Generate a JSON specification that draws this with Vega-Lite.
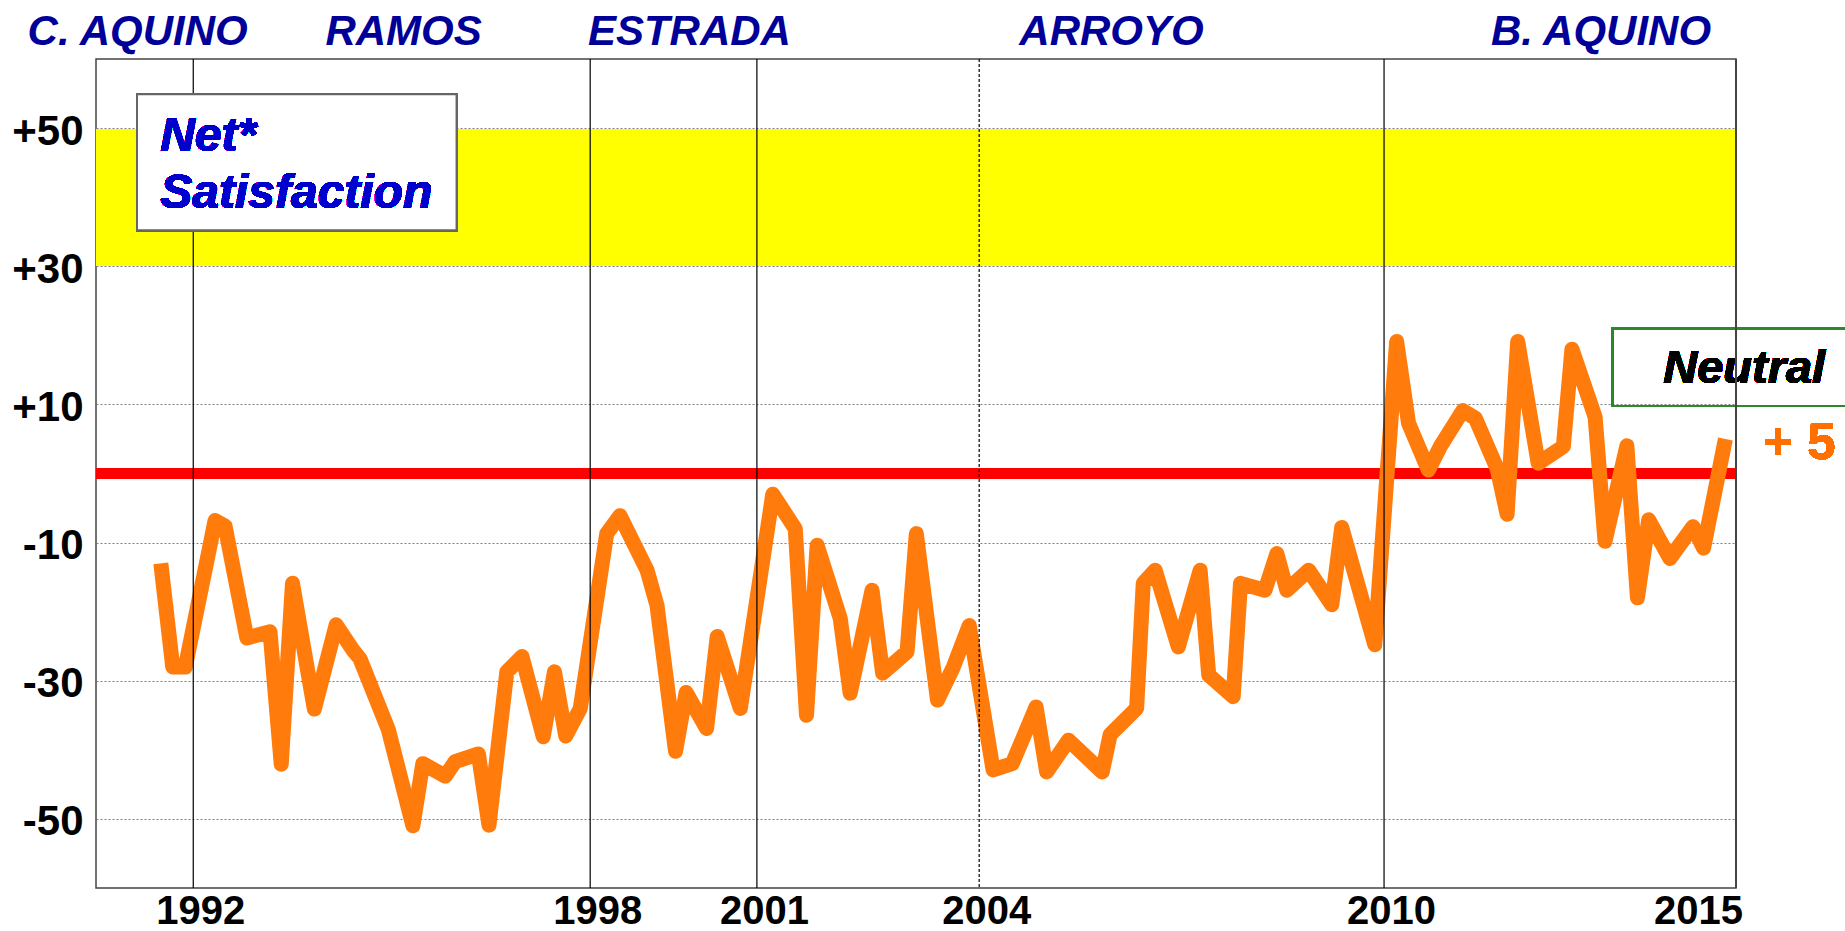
{
  "$schema": "https://vega.github.io/schema/vega-lite/v6.json",
  "width": 1640,
  "height": 829,
  "autosize": {"type": "none"},
  "padding": {"left": 96, "top": 59, "right": 109, "bottom": 43},
  "background": "white",
  "config": {
    "view": {"stroke": "#444444", "strokeWidth": 1.5},
    "font": "Liberation Sans"
  },
  "datasets": {
    "net": [
      {"t": 1991.96, "net": -13.0}, {"t": 1992.14, "net": -28.0}, {"t": 1992.33, "net": -28.0},
      {"t": 1992.78, "net": -6.8}, {"t": 1992.93, "net": -7.6}, {"t": 1993.26, "net": -23.8},
      {"t": 1993.61, "net": -22.9}, {"t": 1993.78, "net": -42.1}, {"t": 1993.95, "net": -15.9},
      {"t": 1994.28, "net": -34.1}, {"t": 1994.61, "net": -21.9}, {"t": 1994.86, "net": -25.5},
      {"t": 1994.97, "net": -26.8}, {"t": 1995.40, "net": -37.1}, {"t": 1995.77, "net": -51.0},
      {"t": 1995.92, "net": -42.0}, {"t": 1996.26, "net": -43.8}, {"t": 1996.41, "net": -41.7},
      {"t": 1996.76, "net": -40.6}, {"t": 1996.92, "net": -50.9}, {"t": 1997.19, "net": -28.7},
      {"t": 1997.42, "net": -26.5}, {"t": 1997.74, "net": -38.1}, {"t": 1997.91, "net": -28.7},
      {"t": 1998.08, "net": -38.0}, {"t": 1998.30, "net": -34.0}, {"t": 1998.70, "net": -8.7},
      {"t": 1998.90, "net": -6.1}, {"t": 1999.31, "net": -14.0}, {"t": 1999.46, "net": -19.1},
      {"t": 1999.74, "net": -40.2}, {"t": 1999.90, "net": -31.7}, {"t": 2000.21, "net": -36.9},
      {"t": 2000.37, "net": -23.6}, {"t": 2000.72, "net": -34.0}, {"t": 2001.21, "net": -3.0},
      {"t": 2001.55, "net": -8.0}, {"t": 2001.72, "net": -35.0}, {"t": 2001.88, "net": -10.4},
      {"t": 2002.23, "net": -21.0}, {"t": 2002.38, "net": -31.8}, {"t": 2002.71, "net": -16.9},
      {"t": 2002.87, "net": -28.9}, {"t": 2003.24, "net": -25.8}, {"t": 2003.38, "net": -8.7},
      {"t": 2003.70, "net": -32.8}, {"t": 2003.94, "net": -28.0}, {"t": 2004.18, "net": -22.0},
      {"t": 2004.54, "net": -42.9}, {"t": 2004.83, "net": -42.0}, {"t": 2005.19, "net": -33.8},
      {"t": 2005.35, "net": -43.2}, {"t": 2005.68, "net": -38.6}, {"t": 2006.19, "net": -43.2},
      {"t": 2006.31, "net": -37.8}, {"t": 2006.71, "net": -34.0}, {"t": 2006.81, "net": -15.9},
      {"t": 2006.99, "net": -14.0}, {"t": 2007.34, "net": -25.1}, {"t": 2007.67, "net": -14.0},
      {"t": 2007.80, "net": -29.2}, {"t": 2008.17, "net": -32.3}, {"t": 2008.28, "net": -15.9},
      {"t": 2008.65, "net": -16.9}, {"t": 2008.83, "net": -11.6}, {"t": 2008.98, "net": -16.9},
      {"t": 2009.31, "net": -14.0}, {"t": 2009.66, "net": -19.0}, {"t": 2009.81, "net": -7.8},
      {"t": 2010.31, "net": -24.8}, {"t": 2010.64, "net": 19.1}, {"t": 2010.82, "net": 7.3},
      {"t": 2011.12, "net": 0.5}, {"t": 2011.30, "net": 3.9}, {"t": 2011.64, "net": 9.1},
      {"t": 2011.83, "net": 8.0}, {"t": 2012.16, "net": 0.7}, {"t": 2012.31, "net": -5.9},
      {"t": 2012.47, "net": 19.1}, {"t": 2012.78, "net": 1.5}, {"t": 2013.16, "net": 3.9},
      {"t": 2013.29, "net": 18.0}, {"t": 2013.64, "net": 8.2}, {"t": 2013.79, "net": -9.8},
      {"t": 2014.12, "net": 4.0}, {"t": 2014.28, "net": -18.0}, {"t": 2014.45, "net": -6.7},
      {"t": 2014.77, "net": -12.3}, {"t": 2015.12, "net": -7.7}, {"t": 2015.28, "net": -10.8},
      {"t": 2015.61, "net": 5.0}
    ],
    "transitions": [
      {"date": 1992.45, "kind": "new president"},
      {"date": 1998.45, "kind": "new president"},
      {"date": 2000.97, "kind": "new president"},
      {"date": 2004.33, "kind": "second term"},
      {"date": 2010.45, "kind": "new president"}
    ],
    "presidents": [
      {"president": "C. AQUINO", "mid": 1991.61},
      {"president": "RAMOS", "mid": 1995.63},
      {"president": "ESTRADA", "mid": 1999.95},
      {"president": "ARROYO", "mid": 2006.33},
      {"president": "B. AQUINO", "mid": 2013.73}
    ]
  },
  "layer": [
    {
      "data": {"name": "net"},
      "mark": {"type": "rect", "color": "#FFFF00"},
      "encoding": {
        "x": {"datum": 1990.98, "type": "quantitative", "title": null,
          "scale": {"domain": [1990.98, 2015.77], "nice": false, "zero": false},
          "axis": {
            "values": [1992.45, 1998.45, 2000.97, 2004.33, 2010.45, 2015.09],
            "labelExpr": "datum.value < 1995 ? '1992' : datum.value < 2000 ? '1998' : datum.value < 2003 ? '2001' : datum.value < 2007 ? '2004' : datum.value < 2012 ? '2010' : '2015'",
            "ticks": false, "domain": false, "grid": false,
            "labelFont": "Liberation Sans", "labelFontSize": 40, "labelFontWeight": "bold",
            "labelColor": "#000000", "labelPadding": 3, "labelOffset": 7, "labelFlush": false,
            "labelOverlap": false
          }
        },
        "x2": {"datum": 2015.77},
        "y": {"datum": 30.1, "type": "quantitative", "title": null,
          "scale": {"domain": [-60, 60], "nice": false, "zero": false},
          "axis": {
            "values": [-50, -30, -10, 10, 30, 50],
            "labelExpr": "datum.value > 0 ? '+' + datum.value : '' + datum.value",
            "ticks": false, "domain": false, "grid": true,
            "gridColor": "#808080", "gridDash": [2, 2], "gridWidth": 1,
            "labelFont": "Liberation Sans", "labelFontSize": 42, "labelFontWeight": "bold",
            "labelColor": "#000000", "labelPadding": 13, "labelOffset": 3, "labelFlush": false,
            "labelOverlap": false
          }
        },
        "y2": {"datum": 49.8}
      }
    },
    {
      "data": {"name": "net"},
      "mark": {"type": "rule", "color": "#FF0000", "strokeWidth": 10},
      "encoding": {"y": {"datum": 0, "type": "quantitative", "title": null}}
    },
    {
      "data": {"name": "net"},
      "mark": {"type": "line", "color": "#FF7B0C", "strokeWidth": 15, "strokeJoin": "round", "strokeCap": "butt"},
      "encoding": {
        "x": {"field": "t", "type": "quantitative", "title": null},
        "y": {"field": "net", "type": "quantitative", "title": null}
      }
    },
    {
      "data": {"name": "transitions"},
      "mark": {"type": "rule", "color": "#000000", "strokeWidth": 1.2},
      "encoding": {
        "x": {"field": "date", "type": "quantitative", "title": null},
        "strokeDash": {"field": "kind", "type": "nominal", "legend": null,
          "scale": {"domain": ["new president", "second term"], "range": [[1, 0], [3, 2]]}}
      }
    },
    {
      "data": {"name": "net"},
      "mark": {"type": "rect", "fill": "#FFFFFF", "stroke": "#666666", "strokeWidth": 2},
      "encoding": {
        "x": {"datum": 1991.6, "type": "quantitative", "title": null},
        "x2": {"datum": 1996.43},
        "y": {"datum": 54.9, "type": "quantitative", "title": null},
        "y2": {"datum": 35.2}
      }
    },
    {
      "data": {"name": "net"},
      "mark": {"type": "text", "text": "Net*", "align": "left", "baseline": "alphabetic",
        "font": "Liberation Sans", "fontSize": 48, "fontWeight": "bold", "fontStyle": "italic", "color": "#0000CC"},
      "encoding": {
        "x": {"datum": 1991.95, "type": "quantitative", "title": null},
        "y": {"datum": 46.7, "type": "quantitative", "title": null}
      }
    },
    {
      "data": {"name": "net"},
      "mark": {"type": "text", "text": "Satisfaction", "align": "left", "baseline": "alphabetic",
        "font": "Liberation Sans", "fontSize": 48, "fontWeight": "bold", "fontStyle": "italic", "color": "#0000CC"},
      "encoding": {
        "x": {"datum": 1991.95, "type": "quantitative", "title": null},
        "y": {"datum": 38.4, "type": "quantitative", "title": null}
      }
    },
    {
      "data": {"name": "net"},
      "mark": {"type": "rect", "fill": "#FFFFFF", "fillOpacity": 0, "stroke": "#2A8A2A", "strokeWidth": 1.5},
      "encoding": {
        "x": {"datum": 2013.9, "type": "quantitative", "title": null},
        "x2": {"datum": 2018.6},
        "y": {"datum": 21.0, "type": "quantitative", "title": null},
        "y2": {"datum": 9.8}
      }
    },
    {
      "data": {"name": "net"},
      "mark": {"type": "text", "text": "Neutral", "align": "left", "baseline": "alphabetic",
        "font": "Liberation Sans", "fontSize": 47, "fontWeight": "bold", "fontStyle": "italic", "color": "#000000"},
      "encoding": {
        "x": {"datum": 2014.67, "type": "quantitative", "title": null},
        "y": {"datum": 13.05, "type": "quantitative", "title": null}
      }
    },
    {
      "data": {"name": "net"},
      "mark": {"type": "text", "text": "+ 5", "align": "center", "baseline": "middle",
        "font": "Liberation Sans", "fontSize": 51, "fontWeight": "bold", "color": "#FF7000"},
      "encoding": {
        "x": {"datum": 2016.73, "type": "quantitative", "title": null},
        "y": {"datum": 4.2, "type": "quantitative", "title": null}
      }
    },
    {
      "data": {"name": "net"},
      "mark": {"type": "rule", "color": "#444444", "strokeWidth": 1.5},
      "encoding": {"x": {"datum": 2015.77, "type": "quantitative", "title": null}}
    },
    {
      "data": {"name": "presidents"},
      "mark": {"type": "text", "align": "center", "baseline": "alphabetic",
        "font": "Liberation Sans", "fontSize": 42, "fontWeight": "bold", "fontStyle": "italic", "color": "#000099"},
      "encoding": {
        "x": {"field": "mid", "type": "quantitative", "title": null},
        "y": {"datum": 62.0, "type": "quantitative", "title": null},
        "text": {"field": "president", "type": "nominal"}
      }
    }
  ]
}
